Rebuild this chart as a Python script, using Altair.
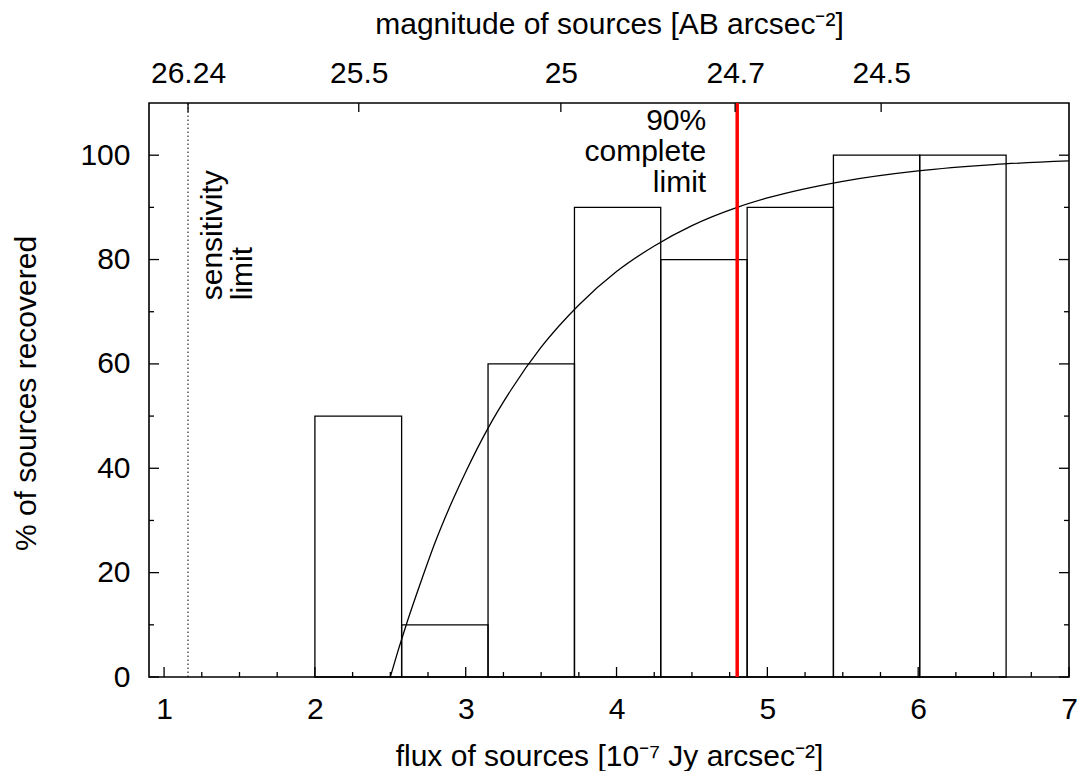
import altair as alt
import pandas as pd

# ---- data ----
bin_lo = [2.000, 2.575, 3.148, 3.721, 4.293, 4.866, 5.438, 6.010]
bin_hi = [2.575, 3.148, 3.721, 4.293, 4.866, 5.438, 6.010, 6.583]
recovered = [50, 10, 60, 90, 80, 90, 100, 100]

curve_flux = [2.50, 2.55, 2.60, 2.70, 2.80, 2.90, 3.00, 3.15, 3.30, 3.50, 3.75, 4.00,
              4.25, 4.50, 4.80, 5.00, 5.50, 6.00, 6.50, 7.00]
curve_pct = [0.0, 4.9, 9.5, 18.0, 26.0, 33.0, 39.3, 47.8, 55.0, 63.2, 71.3, 77.7,
             82.6, 86.5, 90.0, 91.8, 95.0, 97.0, 98.2, 98.9]

mag_ticks = [26.24, 25.5, 25.0, 24.7, 24.5]
sens_mag = 26.24
complete_flux = 4.80

flux_major = [1, 2, 3, 4, 5, 6, 7]
flux_minor = [1.25, 1.5, 1.75, 2.25, 2.5, 2.75, 3.25, 3.5, 3.75, 4.25, 4.5, 4.75,
              5.25, 5.5, 5.75, 6.25, 6.5, 6.75]
pct_major = [0, 20, 40, 60, 80, 100]
pct_minor = [10, 30, 50, 70, 90]


def mag_to_flux(m):
    # AB magnitude -> flux in 1e-7 Jy
    return 10 ** ((8.9 - m) / 2.5) / 1e-7


W, H = 920, 574
FONT = "Liberation Sans"
FS = 30

xs = alt.Scale(domain=[0.9, 7.0], nice=False, zero=False)
ys = alt.Scale(domain=[0, 110], nice=False, zero=False)

bars_df = pd.DataFrame({"lo": bin_lo, "hi": bin_hi, "pct": recovered})
curve_df = pd.DataFrame({"flux": curve_flux, "pct": curve_pct})
top_df = pd.DataFrame({"flux": [mag_to_flux(m) for m in mag_ticks]})
xmaj_df = pd.DataFrame({"flux": flux_major})
xmin_df = pd.DataFrame({"flux": flux_minor})
ymaj_df = pd.DataFrame({"pct": pct_major})
ymin_df = pd.DataFrame({"pct": pct_minor})

common = dict(ticks=False, domain=False, grid=False, labelFont=FONT, labelFontSize=FS,
              labelColor="black", labelFlush=False, labelOverlap=False, labelBound=False,
              titleFont=FONT, titleFontSize=FS, titleFontWeight="normal", titleColor="black")

bottom_axis = alt.Axis(
    orient="bottom", values=flux_major, format="d", labelPadding=17,
    title="flux of sources [10⁻⁷ Jy arcsec⁻²]", titleY=88, titleBaseline="alphabetic",
    **common,
)
top_axis = alt.Axis(
    orient="top", values=[mag_to_flux(m) for m in mag_ticks],
    labelExpr="format(8.9 - 2.5*log(datum.value*1e-7)/LN10, '.4~g')",
    labelPadding=21, labelBaseline="alphabetic",
    title="magnitude of sources [AB arcsec⁻²]", titleY=-70, titleBaseline="alphabetic",
    **common,
)
left_axis = alt.Axis(
    orient="left", values=pct_major, format="d", labelPadding=19,
    title="% of sources recovered", titleAngle=270, titleX=-114, titleY=290,
    titleBaseline="alphabetic", titleAlign="center",
    **common,
)

bars = alt.Chart(bars_df).mark_rect(
    fill="white", fillOpacity=0, stroke="black", strokeWidth=1.3
).encode(
    x=alt.X("lo:Q", scale=xs, axis=bottom_axis),
    x2="hi:Q",
    y=alt.Y("pct:Q", scale=ys, axis=left_axis),
    y2=alt.datum(0),
)

curve = alt.Chart(curve_df).mark_line(
    color="black", strokeWidth=1.3, interpolate="monotone"
).encode(
    x=alt.X("flux:Q", scale=xs, axis=None),
    y=alt.Y("pct:Q", scale=ys, axis=None),
)

red = alt.Chart(pd.DataFrame({"flux": [complete_flux]})).mark_rule(
    color="#ff0000", strokeWidth=3.5
).encode(
    x=alt.X("flux:Q", scale=xs, axis=None),
    y=alt.Y(datum=0, scale=ys, axis=None),
    y2=alt.datum(110),
)

sens = alt.Chart(pd.DataFrame({"flux": [mag_to_flux(sens_mag)]})).mark_rule(
    color="black", strokeWidth=1, strokeDash=[1.5, 2.5]
).encode(
    x=alt.X("flux:Q", scale=xs, axis=None),
    y=alt.Y(datum=0, scale=ys, axis=None),
    y2=alt.datum(110),
)

# inward ticks (gnuplot style)
top_ticks = alt.Chart(top_df).mark_rule(color="black", strokeWidth=1.3).encode(
    x=alt.X("flux:Q", scale=xs, axis=top_axis),
    y=alt.value(0), y2=alt.value(9),
)
xmaj_ticks = alt.Chart(xmaj_df).mark_rule(color="black", strokeWidth=1.3).encode(
    x=alt.X("flux:Q", scale=xs, axis=None), y=alt.value(H), y2=alt.value(H - 10),
)
xmin_ticks = alt.Chart(xmin_df).mark_rule(color="black", strokeWidth=1.3).encode(
    x=alt.X("flux:Q", scale=xs, axis=None), y=alt.value(H), y2=alt.value(H - 5),
)
ymaj_l = alt.Chart(ymaj_df).mark_rule(color="black", strokeWidth=1.3).encode(
    y=alt.Y("pct:Q", scale=ys, axis=None), x=alt.value(0), x2=alt.value(10),
)
ymin_l = alt.Chart(ymin_df).mark_rule(color="black", strokeWidth=1.3).encode(
    y=alt.Y("pct:Q", scale=ys, axis=None), x=alt.value(0), x2=alt.value(5),
)
ymaj_r = alt.Chart(ymaj_df).mark_rule(color="black", strokeWidth=1.3).encode(
    y=alt.Y("pct:Q", scale=ys, axis=None), x=alt.value(W), x2=alt.value(W - 10),
)
ymin_r = alt.Chart(ymin_df).mark_rule(color="black", strokeWidth=1.3).encode(
    y=alt.Y("pct:Q", scale=ys, axis=None), x=alt.value(W), x2=alt.value(W - 5),
)

sens_text = alt.Chart(pd.DataFrame({"flux": [mag_to_flux(sens_mag)], "pct": [72.2]})).mark_text(
    angle=270, align="left", baseline="alphabetic", font=FONT, fontSize=FS,
    lineHeight=30, dx=0, dy=34, color="black",
).encode(
    x=alt.X("flux:Q", scale=xs, axis=None),
    y=alt.Y("pct:Q", scale=ys, axis=None),
    text=alt.value(["sensitivity", "limit"]),
)

comp_text = alt.Chart(pd.DataFrame({"flux": [complete_flux], "pct": [104.8]})).mark_text(
    align="right", baseline="alphabetic", font=FONT, fontSize=FS, lineHeight=31,
    dx=-31, color="black",
).encode(
    x=alt.X("flux:Q", scale=xs, axis=None),
    y=alt.Y("pct:Q", scale=ys, axis=None),
    text=alt.value(["90%", "complete", "limit"]),
)

chart = alt.layer(
    bars, curve, sens, red, top_ticks, xmaj_ticks, xmin_ticks,
    ymaj_l, ymin_l, ymaj_r, ymin_r, sens_text, comp_text,
).resolve_axis(x="independent", y="independent").properties(
    width=W, height=H,
    autosize=alt.AutoSizeParams(type="none"),
    padding={"left": 141, "top": 95, "right": 8, "bottom": 94},
    background="white",
).configure_view(stroke="black", strokeWidth=1.6)

chart.save("out.html", embed_options={"renderer": "svg", "actions": False})
